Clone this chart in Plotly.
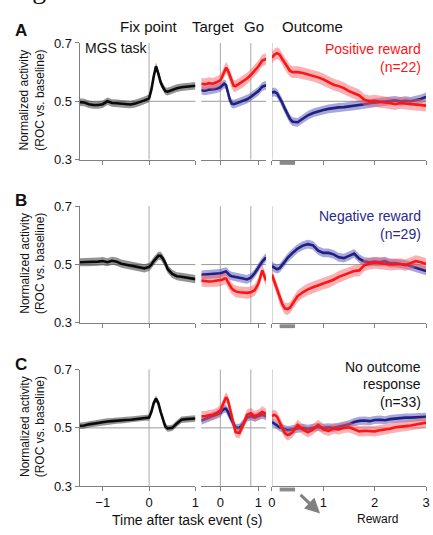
import plotly.graph_objects as go

# ---------------- data ----------------
t1 = [-1.5, -1.4, -1.3, -1.2, -1.1, -1.0, -0.9, -0.8, -0.7, -0.6, -0.5, -0.4, -0.3, -0.2, -0.1, 0.0,
      0.05, 0.1, 0.15, 0.2, 0.25, 0.3, 0.35, 0.4, 0.5, 0.6, 0.7, 0.8, 0.9, 1.0]
t2 = [-0.5, -0.4, -0.3, -0.2, -0.1, 0.0, 0.05, 0.1, 0.15, 0.2, 0.25, 0.3, 0.35, 0.4,
      0.5, 0.6, 0.7, 0.8, 0.9, 1.0, 1.1, 1.2]
t3 = [0.0, 0.05, 0.1, 0.15, 0.2, 0.25, 0.3, 0.35, 0.4,
      0.5, 0.6, 0.7, 0.8, 0.9, 1.0, 1.1, 1.2, 1.3, 1.4, 1.5, 1.6, 1.7, 1.8, 1.9, 2.0,
      2.1, 2.2, 2.3, 2.4, 2.5, 2.6, 2.7, 2.8, 2.9, 3.0]

# Panel A: positive reward neurons
A_fix = [0.497, 0.496, 0.490, 0.487, 0.487, 0.490, 0.500, 0.494, 0.493, 0.492, 0.490, 0.489, 0.492, 0.497, 0.503, 0.510,
         0.540, 0.585, 0.620, 0.595, 0.565, 0.548, 0.535, 0.533, 0.540, 0.545, 0.548, 0.550, 0.552, 0.553]
A_tg_red = [0.560, 0.558, 0.562, 0.560, 0.565, 0.572, 0.585, 0.603, 0.615, 0.605, 0.585, 0.565, 0.553, 0.552,
            0.560, 0.568, 0.578, 0.590, 0.605, 0.620, 0.640, 0.645]
A_tg_blue = [0.538, 0.536, 0.540, 0.541, 0.543, 0.548, 0.553, 0.560, 0.555, 0.530, 0.505, 0.492, 0.490, 0.492,
             0.497, 0.502, 0.507, 0.515, 0.525, 0.535, 0.550, 0.555]
A_out_red = [0.650, 0.660, 0.665, 0.660, 0.645, 0.630, 0.615, 0.605, 0.600,
             0.600, 0.597, 0.592, 0.588, 0.582, 0.575, 0.565, 0.557, 0.552, 0.545, 0.535, 0.528, 0.520, 0.505, 0.500, 0.502,
             0.498, 0.496, 0.494, 0.490, 0.494, 0.492, 0.490, 0.488, 0.486, 0.485]
A_out_blue = [0.530, 0.532, 0.527, 0.512, 0.495, 0.475, 0.455, 0.440, 0.430,
              0.428, 0.440, 0.452, 0.460, 0.466, 0.470, 0.474, 0.477, 0.479, 0.480, 0.482, 0.484, 0.487, 0.490, 0.493, 0.495,
              0.497, 0.500, 0.502, 0.503, 0.500, 0.502, 0.500, 0.503, 0.508, 0.515]

# Panel B: negative reward neurons
B_fix = [0.508, 0.508, 0.508, 0.508, 0.510, 0.512, 0.508, 0.513, 0.510, 0.503, 0.500, 0.497, 0.495, 0.490, 0.487, 0.492,
         0.500, 0.512, 0.522, 0.530, 0.530, 0.520, 0.505, 0.485, 0.468, 0.460, 0.458, 0.455, 0.452, 0.450]
B_tg_red = [0.445, 0.443, 0.442, 0.443, 0.444, 0.446, 0.448, 0.452, 0.452, 0.440, 0.428, 0.418, 0.412, 0.408,
            0.405, 0.403, 0.403, 0.405, 0.412, 0.435, 0.480, 0.445]
B_tg_blue = [0.465, 0.466, 0.465, 0.467, 0.468, 0.470, 0.472, 0.475, 0.476, 0.470, 0.463, 0.460, 0.459, 0.458,
             0.456, 0.452, 0.449, 0.455, 0.470, 0.490, 0.510, 0.525]
B_out_red = [0.465, 0.440, 0.415, 0.385, 0.365, 0.350, 0.347, 0.352, 0.365,
             0.392, 0.405, 0.415, 0.422, 0.428, 0.435, 0.440, 0.448, 0.458, 0.465, 0.472, 0.478, 0.480, 0.498, 0.503, 0.506,
             0.505, 0.502, 0.500, 0.500, 0.502, 0.498, 0.505, 0.512, 0.508, 0.502]
B_out_blue = [0.495, 0.488, 0.484, 0.488, 0.498, 0.510, 0.522, 0.532, 0.540,
              0.555, 0.565, 0.570, 0.566, 0.548, 0.540, 0.540, 0.535, 0.525, 0.522, 0.530, 0.538, 0.520, 0.510, 0.508, 0.510,
              0.508, 0.512, 0.505, 0.505, 0.502, 0.500, 0.495, 0.490, 0.484, 0.478]

# Panel C: no outcome response neurons
C_fix = [0.507, 0.508, 0.512, 0.515, 0.518, 0.520, 0.522, 0.523, 0.525, 0.526, 0.527, 0.528, 0.530, 0.533, 0.535, 0.535,
         0.555, 0.585, 0.600, 0.585, 0.555, 0.525, 0.505, 0.498, 0.500, 0.515, 0.528, 0.530, 0.530, 0.532]
C_tg_red = [0.540, 0.540, 0.543, 0.545, 0.550, 0.560, 0.575, 0.592, 0.605, 0.595, 0.570, 0.540, 0.510, 0.485,
            0.482, 0.510, 0.545, 0.550, 0.540, 0.545, 0.555, 0.548]
C_tg_blue = [0.525, 0.530, 0.535, 0.540, 0.545, 0.550, 0.560, 0.565, 0.565, 0.555, 0.540, 0.525, 0.510, 0.500,
             0.500, 0.515, 0.535, 0.540, 0.535, 0.540, 0.545, 0.540]
C_out_red = [0.540, 0.545, 0.538, 0.520, 0.500, 0.482, 0.475, 0.478, 0.485,
             0.510, 0.495, 0.485, 0.495, 0.510, 0.495, 0.490, 0.498, 0.495, 0.500, 0.502, 0.495, 0.488, 0.490, 0.490, 0.488,
             0.492, 0.494, 0.497, 0.502, 0.505, 0.506, 0.508, 0.512, 0.515, 0.518]
C_out_blue = [0.520, 0.515, 0.508, 0.502, 0.498, 0.495, 0.492, 0.493, 0.495,
              0.498, 0.500, 0.497, 0.500, 0.503, 0.500, 0.502, 0.500, 0.505, 0.508, 0.512, 0.520, 0.524, 0.525, 0.523, 0.527,
              0.528, 0.526, 0.530, 0.532, 0.533, 0.535, 0.535, 0.536, 0.537, 0.538]

# SEM half-widths of shaded bands
sem_black = [0.013, 0.014, 0.011]
sem_red = [0.020, 0.020, 0.018]
sem_blue = [0.015, 0.015, 0.014]

y_ticks = [0.3, 0.5, 0.7]
panel_labels = ["A", "B", "C"]
event_labels = ["Fix point", "Target", "Go", "Outcome"]
group_labels = [["Positive reward", "(n=22)"], ["Negative reward", "(n=29)"],
                ["No outcome", "response", "(n=33)"]]
reward_window = [0.15, 0.45]

# ---------------- styling / layout ----------------
W, H = 433, 535
RED = "#ff1414"
RED_BAND = "rgba(245,100,105,0.5)"
BLUE = "#20207e"
BLUE_BAND = "rgba(80,80,185,0.5)"
BLACK = "#0a0a0a"
BLACK_BAND = "rgba(60,60,60,0.55)"
AXC = "#808080"
FONT = "Liberation Sans, Arial, sans-serif"

xdom = [[77 / W, 195 / W], [201 / W, 267 / W], [273 / W, 430 / W]]
ydom = [[1 - 157 / H, 1 - 37 / H], [1 - 325 / H, 1 - 205 / H], [1 - 493 / H, 1 - 373 / H]]
xranges = [[-1.5, 1.0], [-0.5, 1.2], [0, 3]]
xticks = [[-1, 0, 1], [0, 1], [0, 1, 2, 3]]
events = [[0], [0, 0.8], [0]]
times = [t1, t2, t3]

data = [
    [[(A_fix, BLACK, BLACK_BAND, sem_black[0])],
     [(A_tg_blue, BLUE, BLUE_BAND, sem_blue[0]), (A_tg_red, RED, RED_BAND, sem_red[0])],
     [(A_out_blue, BLUE, BLUE_BAND, sem_blue[0]), (A_out_red, RED, RED_BAND, sem_red[0])]],
    [[(B_fix, BLACK, BLACK_BAND, sem_black[1])],
     [(B_tg_blue, BLUE, BLUE_BAND, sem_blue[1]), (B_tg_red, RED, RED_BAND, sem_red[1])],
     [(B_out_blue, BLUE, BLUE_BAND, sem_blue[1]), (B_out_red, RED, RED_BAND, sem_red[1])]],
    [[(C_fix, BLACK, BLACK_BAND, sem_black[2])],
     [(C_tg_blue, BLUE, BLUE_BAND, sem_blue[2]), (C_tg_red, RED, RED_BAND, sem_red[2])],
     [(C_out_blue, BLUE, BLUE_BAND, sem_blue[2]), (C_out_red, RED, RED_BAND, sem_red[2])]],
]

fig = go.Figure()
layout = dict(width=W, height=H, autosize=False, margin=dict(l=0, r=0, t=0, b=0),
              paper_bgcolor="white", plot_bgcolor="white", showlegend=False,
              font=dict(family=FONT, color="#111", size=13))
shapes = []
annotations = []

for p in range(3):
    for s in range(3):
        k = p * 3 + s + 1
        xa = "x" if k == 1 else f"x{k}"
        ya = "y" if k == 1 else f"y{k}"
        t = times[s]
        for vals, col, band, sem in data[p][s]:
            up = [v + sem for v in vals]
            lo = [v - sem for v in vals]
            fig.add_trace(go.Scatter(x=t + t[::-1], y=up + lo[::-1], fill="toself",
                                     fillcolor=band, line=dict(width=0), mode="lines",
                                     hoverinfo="skip", xaxis=xa, yaxis=ya))
            fig.add_trace(go.Scatter(x=t, y=vals, mode="lines", line=dict(color=col, width=2.6),
                                     xaxis=xa, yaxis=ya))
        layout[f"xaxis{'' if k == 1 else k}"] = dict(
            domain=xdom[s], range=xranges[s], anchor=ya, showline=True, linecolor=AXC, linewidth=1,
            ticks="outside", ticklen=4, tickcolor=AXC, tickvals=xticks[s], showticklabels=(p == 2),
            showgrid=False, zeroline=False, tickfont=dict(size=13, color="#111"), fixedrange=True)
        if s == 0:
            layout[f"yaxis{'' if k == 1 else k}"] = dict(
                domain=ydom[p], range=[0.3, 0.7], anchor=xa, showline=True, linecolor=AXC, linewidth=1,
                ticks="outside", ticklen=4, tickcolor=AXC, tickvals=y_ticks,
                ticktext=[f"{v:.1f}" for v in y_ticks], showgrid=False, zeroline=False,
                tickfont=dict(size=13, color="#111"), fixedrange=True)
        else:
            layout[f"yaxis{'' if k == 1 else k}"] = dict(
                domain=ydom[p], range=[0.3, 0.7], anchor=xa, visible=False, fixedrange=True)
        # baseline at 0.5
        shapes.append(dict(type="line", xref=f"{xa} domain", x0=0, x1=1, yref=ya, y0=0.5, y1=0.5,
                           line=dict(color="#9a9a9a", width=1), layer="below"))
        # event lines
        for ev in events[s]:
            shapes.append(dict(type="line", xref=xa, x0=ev, x1=ev, yref=f"{ya} domain", y0=0, y1=1,
                               line=dict(color="#a8a8a8", width=1), layer="below"))
        if s == 2:
            shapes.append(dict(type="rect", xref=xa, x0=reward_window[0], x1=reward_window[1],
                               yref=f"{ya} domain", y0=-0.045, y1=-0.012,
                               fillcolor="#8a8a8a", line=dict(width=0)))

# panel letters
for p, (lab, yc) in enumerate(zip(panel_labels, [24, 199, 367.5])):
    annotations.append(dict(text=f"<b>{lab}</b>", x=17.5 / W, y=1 - yc / H, xref="paper", yref="paper",
                            xanchor="center", yanchor="middle", showarrow=False,
                            font=dict(size=17, color="#111")))
    # y axis title
    annotations.append(dict(text="Normalized activity<br>(ROC vs. baseline)", textangle=-90,
                            x=29 / W, y=1 - [96, 264, 432][p] / H, xref="paper", yref="paper",
                            xanchor="center", yanchor="middle", showarrow=False,
                            font=dict(size=12, color="#111")))

# event labels at the top
for lab, xc in zip(event_labels, [147.5, 213.5, 255, 314]):
    annotations.append(dict(text=lab, x=xc / W, y=1 - 20 / H, xref="paper", yref="paper",
                            xanchor="center", yanchor="middle", showarrow=False,
                            font=dict(size=15, color="#111")))

annotations.append(dict(text="MGS task", x=80 / W, y=1 - 42.5 / H, xref="paper", yref="paper",
                        xanchor="left", yanchor="middle", showarrow=False, font=dict(size=14, color="#111")))

group_colors = [RED, "#2a2a8a", "#111"]
group_y = [[43.3, 61.7], [215, 233.3], [370, 388.3, 406.7]]
for lines, col, ys in zip(group_labels, group_colors, group_y):
    for txt, yc in zip(lines, ys):
        annotations.append(dict(text=txt, x=427 / W, y=1 - yc / H, xref="paper", yref="paper",
                                xanchor="right", yanchor="middle", showarrow=False,
                                font=dict(size=14, color=col)))

annotations.append(dict(text="Time after task event (s)", x=186 / W, y=1 - 528 / H, xref="paper",
                        yref="paper", xanchor="center", yanchor="middle", showarrow=False,
                        font=dict(size=14, color="#111")))
annotations.append(dict(text="Reward", x=381 / W, y=1 - 527 / H, xref="paper", yref="paper",
                        xanchor="center", yanchor="middle", showarrow=False, font=dict(size=12, color="#111")))
annotations.append(dict(text="", x=322 / W, y=1 - 521 / H, xref="paper", yref="paper",
                        ax=-21, ay=-20, showarrow=True, arrowhead=2, arrowsize=1, arrowwidth=3,
                        arrowcolor="#808080"))
# figure caption, cut off at the top edge as in the source image
annotations.append(dict(text="Fig2", x=3 / W, y=1 + 1 / H, xref="paper", yref="paper",
                        xanchor="left", yanchor="bottom", showarrow=False,
                        font=dict(size=28, color="#111", family="Liberation Serif, serif")))

layout["shapes"] = shapes
layout["annotations"] = annotations
fig.update_layout(**layout)
fig.write_html("out.html", config={"displayModeBar": False},
               post_script="document.body.style.margin='0';document.body.style.overflow='hidden';")
